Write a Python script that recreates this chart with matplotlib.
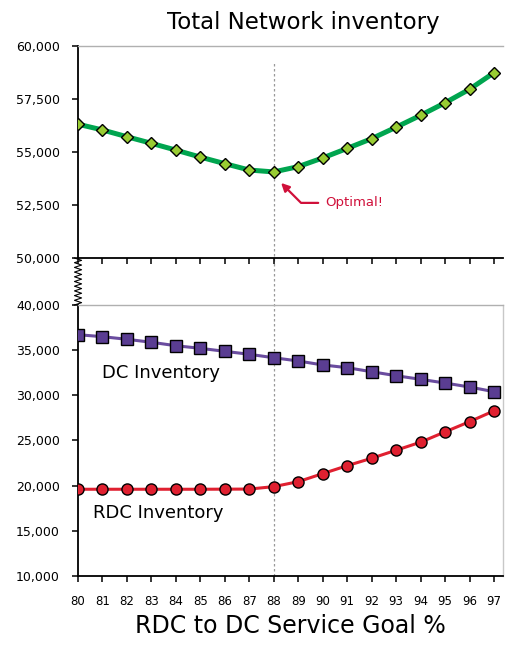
import numpy as np
import matplotlib.pyplot as plt
from matplotlib.ticker import FuncFormatter

goal = [80, 81, 82, 83, 84, 85, 86, 87, 88, 89, 90, 91, 92, 93, 94, 95, 96, 97]
total_inv = [56310, 56040, 55720, 55410, 55090, 54760, 54450, 54150, 54060,
             54310, 54720, 55170, 55630, 56170, 56730, 57320, 57960, 58740]
dc_inv = [36710, 36490, 36200, 35870, 35490, 35200, 34870, 34540, 34160,
          33800, 33360, 33060, 32610, 32170, 31770, 31360, 30920, 30400]
rdc_inv = [19600, 19600, 19600, 19600, 19600, 19600, 19610, 19620, 19890,
           20440, 21330, 22210, 23030, 23920, 24810, 25950, 27080, 28280]
optimal = 88

GREEN = "#00a54f"
LIME = "#99cc33"
PURPLE = "#6a4c9f"
PURPLE_M = "#5a3d92"
RED = "#e02030"
CRIMSON = "#d0103a"

thousands = FuncFormatter(lambda v, p: f"{int(v):,}")

fig = plt.figure(figsize=(5.05, 6.46), dpi=100)
ax_top = fig.add_axes([0.1545, 0.6006, 0.8416, 0.3282])
ax_bot = fig.add_axes([0.1545, 0.1084, 0.8416, 0.4195])

# total network inventory on the upper panel
ax_top.plot(goal, total_inv, color=GREEN, lw=3.6, marker="D", ms=6.5,
            mfc=LIME, mec="black", mew=1.0, zorder=3)
ax_top.set_ylim(50000, 60000)
ax_top.set_yticks([50000, 52500, 55000, 57500, 60000])

# DC and RDC inventory on the lower panel
ax_bot.plot(goal, dc_inv, color=PURPLE, lw=2.2, marker="s", ms=8,
            mfc=PURPLE_M, mec="black", mew=1.0, zorder=3)
ax_bot.plot(goal, rdc_inv, color=RED, lw=2.2, marker="o", ms=8,
            mfc=RED, mec="black", mew=1.0, zorder=3)
ax_bot.set_ylim(10000, 40000)
ax_bot.set_yticks(np.arange(10000, 40001, 5000))

for ax in (ax_top, ax_bot):
    ax.set_xlim(80, 97.37)
    ax.set_xticks(goal)
    ax.yaxis.set_major_formatter(thousands)
    ax.tick_params(direction="out", length=4, width=1.1, labelsize=9,
                   colors="black")
    ax.tick_params(axis="y", pad=9)
    for s in ("left", "bottom"):
        ax.spines[s].set_color("black")
        ax.spines[s].set_linewidth(1.3)
    ax.spines["top"].set_color("#b0b0b0")
    ax.spines["top"].set_linewidth(1.0)

ax_top.spines["right"].set_visible(False)
ax_bot.spines["right"].set_color("#c8c8c8")
ax_bot.spines["right"].set_linewidth(1.0)
ax_top.tick_params(axis="x", labelbottom=False)
ax_bot.tick_params(axis="x", labelsize=8.5, pad=10)

# dotted marker of the optimum, continued through the gap
ax_top.axvline(optimal, ymin=-0.225, ymax=0.925, color="#999999", lw=0.9,
               ls=(0, (2, 2)), clip_on=False, zorder=1)
ax_bot.axvline(optimal, color="#999999", lw=0.9, ls=(0, (2, 2)), zorder=1)

ax_top.annotate("Optimal!", xy=(optimal + 0.3, 53540), xytext=(90.1, 52600),
                color=CRIMSON, fontsize=9.5, va="center", ha="left",
                arrowprops=dict(arrowstyle="-|>", color=CRIMSON, lw=1.6,
                                mutation_scale=12, shrinkA=3, shrinkB=0,
                                connectionstyle="angle,angleA=0,angleB=-45,rad=0"))

ax_bot.text(81.0, 32450, "DC Inventory", fontsize=13, va="center", ha="left")
ax_bot.text(80.6, 16980, "RDC Inventory", fontsize=13, va="center", ha="left")

# zigzag axis break between the two panels
zx = 0.1545
n = 21
zy = np.linspace(1 - 258 / 646, 1 - 305 / 646, n)
zxs = zx + np.where(np.arange(n) % 2 == 0, -0.007, 0.007)
fig.add_artist(plt.Line2D(zxs, zy, color="black", lw=0.8,
                          transform=fig.transFigure))

fig.text(0.6, 0.965, "Total Network inventory", ha="center", va="center",
         fontsize=16.5)
fig.text(0.575, 0.012, "RDC to DC Service Goal %", ha="center", va="bottom",
         fontsize=17)

fig.savefig("out.png", dpi=100)
